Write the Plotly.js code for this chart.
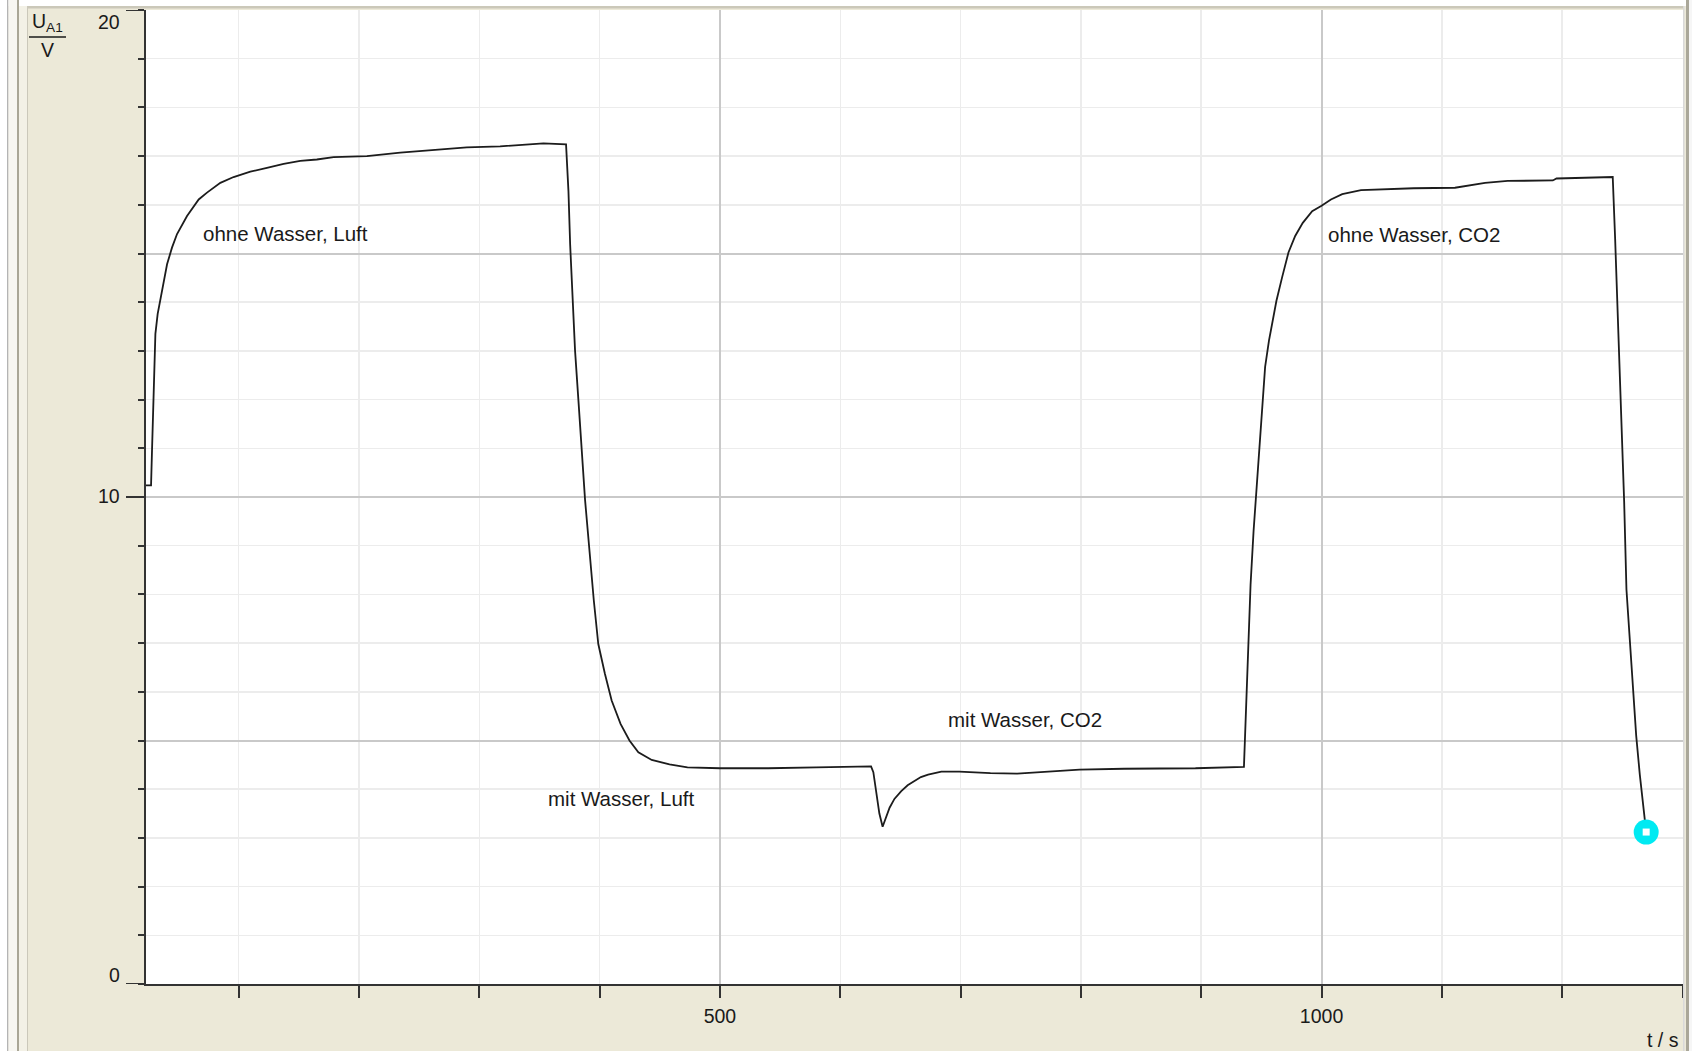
<!DOCTYPE html>
<html>
<head>
<meta charset="utf-8">
<script src="https://cdn.plot.ly/plotly-3.0.1.min.js"></script>
<style>
  html, body { margin: 0; padding: 0; background: #ffffff; }
  #chart { width: 1692px; height: 1051px; }
</style>
</head>
<body>
<div id="chart"></div>
<script>
// ---- data (t in s, U_A1 in V) ----
const timeS = [23, 27.2, 28, 29.4, 30.8, 32.7, 34.9, 37.7, 40.5, 44.6, 48.8, 57.1, 66.8, 73.7, 84.8, 95.8,
  109.7, 123.5, 137.4, 151.2, 165, 178.9, 206.6, 234.3, 262, 289.6, 317.3, 345, 353.3, 372.1,
  374.1, 375.5, 378.2, 379.6, 382.4, 385.2, 387.9, 395.2, 398.9, 404.4, 410, 417.4, 424.8, 432.2,
  443.3, 458.1, 473, 500, 540, 580, 625.6, 627.5, 630, 632.5, 635.2, 637.8, 641, 645, 650.7, 656, 661.9, 667, 673,
  684, 698.9, 724.8, 747, 769.3, 798.9, 835.9, 895.2, 935.5, 936.5, 938.5, 941, 943.5, 945.3,
  946.9, 950, 953.1, 956.3, 959.4, 962.5, 967.2, 972.5, 978.1, 984.4, 992.2, 1000, 1007.8, 1017.2,
  1032.8, 1051.6, 1076.6, 1110.9, 1135.9, 1154.7, 1192.2, 1195.3, 1226.6, 1242, 1244, 1246,
  1248, 1250, 1251.5, 1253.4, 1256, 1258.5, 1261.5, 1264.5, 1267.5, 1269.8];
const voltageV = [10.24, 10.24, 10.96, 12.26, 13.35, 13.76, 14.03, 14.44, 14.78, 15.12, 15.40, 15.77, 16.11, 16.25, 16.45, 16.57,
  16.68, 16.76, 16.84, 16.90, 16.93, 16.98, 17.0, 17.07, 17.12, 17.18, 17.20, 17.24, 17.26, 17.24,
  16.28, 15.19, 13.9, 13.0, 11.98, 10.96, 9.94, 7.87, 6.98, 6.37, 5.82, 5.34, 5.0, 4.76,
  4.6, 4.51, 4.45, 4.43, 4.43, 4.45, 4.47, 4.35, 3.95, 3.5, 3.23, 3.42, 3.62, 3.8, 3.96, 4.08, 4.18, 4.25, 4.30,
  4.36, 4.36, 4.33, 4.32, 4.35, 4.40, 4.42, 4.43, 4.46, 5.2, 6.6, 8.2, 9.3, 9.94,
  10.62, 11.64, 12.67, 13.21, 13.62, 14.03, 14.51, 15.02, 15.36, 15.63, 15.87, 15.98, 16.11, 16.22,
  16.30, 16.32, 16.34, 16.35, 16.45, 16.49, 16.50, 16.54, 16.56, 16.57, 15.3, 13.9,
  12.5, 11.0, 9.9, 8.1, 7.1, 6.2, 5.1, 4.3, 3.6, 3.12];

const labelTexts = ["ohne Wasser, Luft", "mit Wasser, Luft", "mit Wasser, CO2", "ohne Wasser, CO2"];
const labelT = [69, 355.5, 688, 1003.5];
const labelV = [15.42, 3.81, 5.44, 15.38];

const xTickVals = [500, 1000];
const xTickText = ["500", "1000"];
const yLabelVals = [20, 10, 0];
const yLabelText = ["20", "10", "0"];
const yMajorGrid = [0, 5, 10, 15, 20];

// ---- geometry (pixels) ----
const FW = 1692, FH = 1051;
const M = { l: 146, r: 9, t: 10, b: 67 };
const PW = FW - M.l - M.r, PH = FH - M.t - M.b;
const px = x => (x - M.l) / PW;
const py = y => (M.t + PH - y) / PH;

const FONT = '"Liberation Sans", Arial, sans-serif';
const INK = '#1a1a1a';
const BEIGE = '#ece9d8';

function rectPx(x0, y0, x1, y1, color) {
  return { type: 'rect', xref: 'paper', yref: 'paper', x0: px(x0), x1: px(x1), y0: py(y1), y1: py(y0),
           fillcolor: color, line: { width: 0 }, layer: 'above' };
}

const shapes = [
  // window frame
  rectPx(0, 0, FW, 6, '#ffffff'),
  rectPx(28, 6, 1683, 8.5, '#cbc8b9'),
  rectPx(0, 0, 7, FH, '#ffffff'),
  rectPx(7, 0, 8.5, FH, '#b4b4b4'),
  rectPx(8.5, 0, 17, FH, '#f7f6f1'),
  rectPx(17, 0, 19, FH, '#a9a696'),
  rectPx(19, 6, 27, FH, '#f3f1e6'),
  rectPx(27, 6, 28, FH, '#cbc8ba'),
  rectPx(1683, 6, 1684.5, FH, '#d9d9d9'),
  rectPx(1686, 0, 1689, FH, '#aaa799'),
  rectPx(1689, 0, FW, FH, '#f6f6f6'),
  // fraction bar of the y-axis title
  { type: 'line', xref: 'paper', yref: 'paper', x0: px(29), x1: px(66), y0: py(37), y1: py(37),
    line: { color: INK, width: 1.5 }, layer: 'above' }
];
// long y ticks at labelled values
yLabelVals.forEach(v => shapes.push({ type: 'line', xref: 'paper', yref: 'y', x0: px(126), x1: px(146),
  y0: v, y1: v, line: { color: '#333333', width: 2 }, layer: 'above' }));

const annotations = [];
labelTexts.forEach((s, i) => annotations.push({ x: labelT[i], y: labelV[i], xref: 'x', yref: 'y', text: s,
  showarrow: false, xanchor: 'left', yanchor: 'middle', font: { family: FONT, size: 20.5, color: INK } }));
// y tick labels (placed like the original: top label below its tick, bottom label above)
const yLabelPx = [22, 496, 975];
yLabelText.forEach((s, i) => annotations.push({ x: px(122), y: py(yLabelPx[i]), xref: 'paper', yref: 'paper',
  text: s, showarrow: false, xanchor: 'right', yanchor: 'middle', font: { family: FONT, size: 19.5, color: INK } }));
// axis titles
annotations.push({ x: px(30), y: py(23), xref: 'paper', yref: 'paper', text: 'U<sub>A1</sub>', showarrow: false,
  xanchor: 'left', yanchor: 'middle', font: { family: FONT, size: 19.5, color: INK } });
annotations.push({ x: px(47), y: py(50), xref: 'paper', yref: 'paper', text: 'V', showarrow: false,
  xanchor: 'center', yanchor: 'middle', font: { family: FONT, size: 19.5, color: INK } });
annotations.push({ x: px(1681), y: py(1040), xref: 'paper', yref: 'paper', text: 't / s', showarrow: false,
  xanchor: 'right', yanchor: 'middle', font: { family: FONT, size: 19.5, color: INK } });

const n = timeS.length;
const traces = [
  { x: timeS, y: voltageV, type: 'scatter', mode: 'lines', line: { color: '#1c1c1c', width: 1.8 }, hoverinfo: 'x+y' },
  { x: [timeS[n - 1]], y: [voltageV[n - 1]], type: 'scatter', mode: 'markers',
    marker: { symbol: 'circle', size: 25, color: '#00eaf2', line: { width: 0 } }, hoverinfo: 'skip' },
  { x: [timeS[n - 1]], y: [voltageV[n - 1]], type: 'scatter', mode: 'markers',
    marker: { symbol: 'square', size: 7, color: '#ffffff', line: { width: 0 } }, hoverinfo: 'skip' }
];

const layout = {
  width: FW, height: FH,
  margin: M,
  paper_bgcolor: BEIGE,
  plot_bgcolor: '#ffffff',
  showlegend: false,
  font: { family: FONT, size: 19.5, color: INK },
  xaxis: {
    range: [23, 1300.4],
    tickmode: 'array', tickvals: xTickVals, ticktext: xTickText,
    ticks: 'outside', ticklen: 12, tickwidth: 2, tickcolor: '#333333',
    showgrid: true, gridcolor: '#c9c9c9', gridwidth: 2,
    showline: true, linecolor: '#333333', linewidth: 2,
    zeroline: false, ticklabelstandoff: 2,
    tickfont: { family: FONT, size: 19.5, color: INK },
    minor: { tickmode: 'linear', tick0: 0, dtick: 100, ticks: 'outside', ticklen: 12, tickwidth: 2,
             tickcolor: '#333333', showgrid: true, gridcolor: '#ececec', gridwidth: 1.5 }
  },
  yaxis: {
    range: [0, 20],
    tickmode: 'array', tickvals: yMajorGrid, showticklabels: false,
    ticks: 'outside', ticklen: 6, tickwidth: 2, tickcolor: '#333333',
    showgrid: true, gridcolor: '#c9c9c9', gridwidth: 2,
    showline: true, linecolor: '#333333', linewidth: 2,
    zeroline: false,
    minor: { tickmode: 'linear', tick0: 0, dtick: 1, ticks: 'outside', ticklen: 6, tickwidth: 2,
             tickcolor: '#333333', showgrid: true, gridcolor: '#ececec', gridwidth: 1.5 }
  },
  shapes: shapes,
  annotations: annotations
};

Plotly.newPlot('chart', traces, layout, { displayModeBar: false, staticPlot: true });
</script>
</body>
</html>
